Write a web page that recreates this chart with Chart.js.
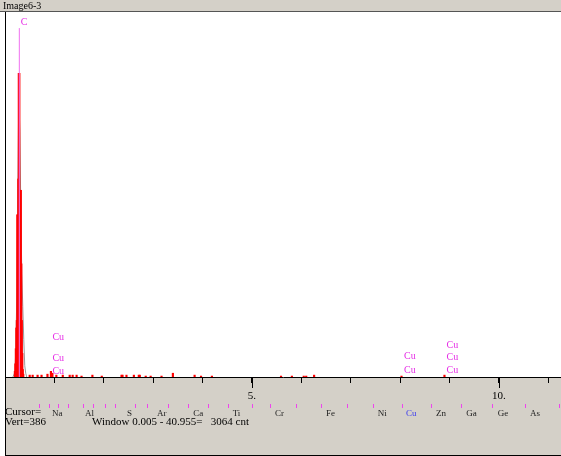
<!DOCTYPE html>
<html>
<head>
<meta charset="utf-8">
<script src="https://cdn.jsdelivr.net/npm/chart.js@4/dist/chart.umd.min.js"></script>
<style>
    html, body { margin: 0; padding: 0; background: #fff; overflow: hidden; }
    #wrap { width: 561px; height: 456px; }
</style>
</head>
<body>
<div id="wrap"><canvas id="spectrum" width="561" height="456"></canvas></div>
<script>
// spectrum channels (keV) and counts
const specEnergy = [0.20, 0.21, 0.22, 0.23, 0.24, 0.25, 0.26, 0.27, 0.28, 0.29, 0.30, 0.31, 0.32, 0.33, 0.34, 0.35, 0.36, 0.37,
    0.50, 0.56, 0.66, 0.74, 0.86, 0.93, 0.96, 1.04, 1.17, 1.31, 1.37, 1.45, 1.55, 1.77, 1.96,
    2.36, 2.38, 2.46, 2.61, 2.71, 2.73, 2.85, 2.95, 3.17, 3.40, 3.84, 3.97, 4.19,
    5.59, 5.81, 6.05, 6.10, 6.26, 8.03, 8.90];
const specCounts = [6, 14, 30, 52, 60, 172, 172, 210, 322, 322, 198, 198, 198, 120, 60, 25, 8, 3,
    2, 2, 2, 2, 3, 6, 4, 2, 2, 2, 2, 2, 1, 2, 1,
    2, 2, 2, 2, 2, 2, 1, 1, 1, 4, 2, 1, 1,
    1, 1, 1, 1, 2, 1, 2];

// grey overlay spectrum
const overlayEnergy = [0.16, 0.20, 0.22, 0.24, 0.26, 0.28, 0.30, 0.32, 0.34, 0.36, 0.38, 0.40, 0.42, 0.44];
const overlayCounts = [0, 5, 30, 90, 200, 300, 260, 180, 110, 75, 40, 12, 4, 0];

// C marker line
const markerEnergy = 0.29;
const markerTop = 370;

// peak labels in the plot
const peakLabels = ['C', 'Cu', 'Cu', 'Cu', 'Cu', 'Cu', 'Cu', 'Cu', 'Cu'];
const peakLabelEnergy = [0.29, 0.93, 0.93, 0.93, 8.05, 8.05, 8.91, 8.91, 8.91];
const peakLabelCounts = [376, 42, 20, 6, 22, 7, 34, 21, 7];

// energy axis
const axisTicks = [0, 1, 2, 3, 4, 5, 6, 7, 8, 9, 10, 11];
const majorTicks = [5, 10];
const majorTickLabels = ['5.', '10.'];

// element marker row
const elementLines = [0.69, 0.89, 1.07, 1.28, 1.58, 1.78, 2.02, 2.23, 2.63, 2.87, 3.30, 3.70, 4.11,
    4.51, 5.00, 5.36, 5.89, 6.40, 6.92, 7.45, 8.04, 8.62, 9.23, 9.86, 10.53, 11.21];
const elementNames = ['Na', 'Al', 'S', 'Ar', 'Ca', 'Ti', 'Cr', 'Fe', 'Ni', 'Cu', 'Zn', 'Ga', 'Ge', 'As'];
const elementNameEnergy = [0.95, 1.62, 2.47, 3.08, 3.81, 4.61, 5.47, 6.50, 7.55, 8.12, 8.73, 9.34, 9.98, 10.63];
const activeElement = 'Cu';

const titleText = 'Image6-3';
const cursorText = 'Cursor=';
const vertText = 'Vert=386';
const windowText = 'Window 0.005 - 40.955=   3064 cnt';

const PANEL = '#d4d0c8';
const serif = '"Liberation Serif", "DejaVu Serif", serif';

const frame = {
    id: 'frame',
    beforeDraw(chart) {
        const c = chart.ctx;
        const a = chart.chartArea;
        c.save();
        c.fillStyle = '#fff';
        c.fillRect(0, 0, chart.width, chart.height);
        // title bar
        c.fillStyle = PANEL;
        c.fillRect(0, 0, chart.width, 11);
        c.fillStyle = '#555';
        c.fillRect(0, 11, chart.width, 1);
        c.fillStyle = '#000';
        c.font = '10px ' + serif;
        c.textBaseline = 'alphabetic';
        c.fillText(titleText, 3, 9);
        // lower panel
        const left = Math.round(a.left);
        c.fillStyle = PANEL;
        c.fillRect(left, a.bottom, chart.width - left, 455 - a.bottom);
        c.fillStyle = '#000';
        c.fillRect(left, 455, chart.width - left, 1);
        c.fillRect(left, a.top - 1, 1, 456 - a.top);
        c.restore();
    },
    afterDraw(chart) {
        const c = chart.ctx;
        const x = chart.scales.x;
        const y = chart.scales.y;
        const a = chart.chartArea;
        c.save();
        // longer major ticks
        c.fillStyle = '#000';
        majorTicks.forEach(v => {
            c.fillRect(Math.round(x.getPixelForValue(v)), a.bottom, 1, 11);
        });
        // peak labels
        c.font = '10px ' + serif;
        c.textBaseline = 'middle';
        c.fillStyle = '#e62ee6';
        peakLabels.forEach((t, i) => {
            c.fillText(t, x.getPixelForValue(peakLabelEnergy[i]) + 1.5, y.getPixelForValue(peakLabelCounts[i]));
        });
        // element marker row
        c.fillStyle = '#ee44ee';
        elementLines.forEach(e => {
            const px = Math.round(x.getPixelForValue(e));
            if (px < a.right) c.fillRect(px, 404, 1, 4);
        });
        c.font = '9px ' + serif;
        elementNames.forEach((t, i) => {
            c.fillStyle = t === activeElement ? '#3a3af0' : '#222';
            c.fillText(t, x.getPixelForValue(elementNameEnergy[i]), 414);
        });
        // status text
        c.fillStyle = '#000';
        c.font = '11px ' + serif;
        c.fillText(cursorText, 5, 412);
        c.fillText(vertText, 5, 422);
        c.fillText(windowText, 92, 422);
        c.restore();
    }
};

new Chart(document.getElementById('spectrum'), {
    type: 'bar',
    data: {
        datasets: [
            {
                type: 'line',
                data: [{ x: markerEnergy, y: 0 }, { x: markerEnergy, y: markerTop }],
                borderColor: '#f070f0',
                borderWidth: 1,
                pointRadius: 0,
                order: 0
            },
            {
                data: specEnergy.map((e, i) => ({ x: e, y: specCounts[i] })),
                backgroundColor: '#ff0000',
                borderWidth: 0,
                barThickness: 1.5,
                grouped: false,
                order: 1
            },
            {
                type: 'line',
                data: overlayEnergy.map((e, i) => ({ x: e, y: overlayCounts[i] })),
                borderColor: '#9a9a9a',
                borderWidth: 1,
                pointRadius: 0,
                tension: 0,
                order: 2
            }
        ]
    },
    options: {
        responsive: false,
        animation: false,
        devicePixelRatio: 1,
        layout: { padding: { top: 13, left: 5, right: 0, bottom: 0 } },
        plugins: { legend: { display: false }, tooltip: { enabled: false } },
        scales: {
            x: {
                type: 'linear',
                min: 0,
                max: 11.26,
                offset: false,
                afterFit: s => {
                    s.height = 79;
                    s.paddingLeft = 0;
                    s.paddingRight = 0;
                },
                afterBuildTicks: s => { s.ticks = axisTicks.map(v => ({ value: v })); },
                border: { display: true, color: '#000', width: 1 },
                grid: { offset: false, drawOnChartArea: false, drawTicks: true, tickLength: 6, color: '#000' },
                ticks: {
                    autoSkip: false,
                    maxRotation: 0,
                    padding: 7,
                    color: '#000',
                    font: { family: serif, size: 11 },
                    callback: v => {
                        const i = majorTicks.indexOf(v);
                        return i >= 0 ? majorTickLabels[i] : '';
                    }
                }
            },
            y: { display: false, min: 0, max: 386 }
        }
    },
    plugins: [frame]
});
</script>
</body>
</html>
